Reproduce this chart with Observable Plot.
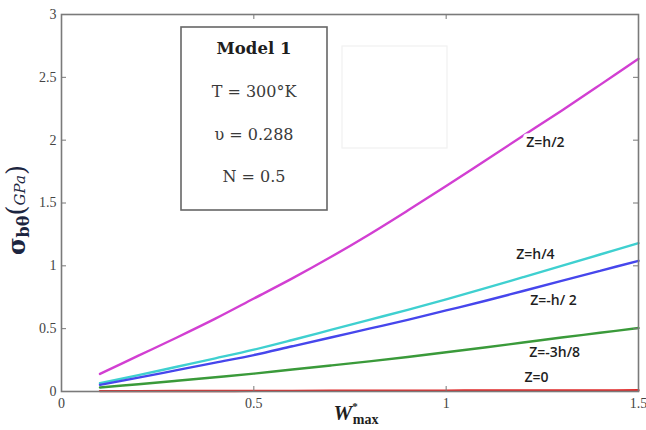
<!DOCTYPE html>
<html>
<head>
<meta charset="utf-8">
<script src="https://cdn.jsdelivr.net/npm/d3@7"></script>
<script src="https://cdn.jsdelivr.net/npm/@observablehq/plot@0.6"></script>
<style>
  html, body { margin: 0; padding: 0; background: #fff; }
  #chart svg { display: block; }
</style>
</head>
<body>
<div id="chart"></div>
<script>
// ---- data ----
const wMax = [0.1, 0.2, 0.3, 0.4, 0.5, 0.6, 0.7, 0.8, 0.9, 1.0, 1.1, 1.2, 1.3, 1.4, 1.5];
const zHalf      = [0.14, 0.285, 0.43, 0.58, 0.74, 0.9, 1.07, 1.25, 1.44, 1.635, 1.835, 2.035, 2.235, 2.44, 2.647];
const zQuarter   = [0.066, 0.13, 0.197, 0.264, 0.333, 0.41, 0.49, 0.57, 0.65, 0.733, 0.82, 0.91, 1.0, 1.09, 1.18];
const zMinusHalf = [0.053, 0.11, 0.17, 0.23, 0.29, 0.36, 0.43, 0.50, 0.57, 0.645, 0.72, 0.80, 0.88, 0.96, 1.04];
const zMinus3h8  = [0.032, 0.058, 0.085, 0.113, 0.142, 0.175, 0.207, 0.24, 0.275, 0.312, 0.35, 0.39, 0.43, 0.467, 0.505];
const zZero      = [0.003, 0.003, 0.004, 0.004, 0.005, 0.005, 0.006, 0.006, 0.007, 0.007, 0.008, 0.008, 0.009, 0.009, 0.01];

const seriesNames = ["Z=h/2", "Z=h/4", "Z=-h/ 2", "Z=-3h/8", "Z=0"];
const seriesValues = [zHalf, zQuarter, zMinusHalf, zMinus3h8, zZero];
const seriesColors = ["#d23fd2", "#3fd0d0", "#4646ec", "#3a9a3a", "#e02a2a"];

// label anchors (data coordinates) for the curve annotations
const labelX = [1.258, 1.232, 1.279, 1.282, 1.235];
const labelY = [1.98, 1.093, 0.726, 0.311, 0.112];

const xTicks = [0, 0.5, 1, 1.5];
const yTicks = [0, 0.5, 1, 1.5, 2, 2.5, 3];

const infoLines = ["Model 1", "T = 300°K", "υ = 0.288", "N = 0.5"];

// ---- build tables ----
const rows = [];
seriesNames.forEach((name, i) => {
  wMax.forEach((w, j) => rows.push({series: name, w, s: seriesValues[i][j]}));
});
const labels = seriesNames.map((name, i) => ({name, x: labelX[i], y: labelY[i]}));

const W = 646, H = 430;
const mL = 61, mR = 8, mT = 14, mB = 39;
const innerW = W - mL - mR, innerH = H - mT - mB;
const tickLen = 5;
const serif = "'Liberation Serif', 'Times New Roman', serif";
const sans = "'Open Sans', sans-serif";

const chart = Plot.plot({
  width: W,
  height: H,
  marginLeft: mL,
  marginRight: mR,
  marginTop: mT,
  marginBottom: mB,
  style: {fontSize: "14px", color: "#333", background: "#fff"},
  x: {domain: [0, 1.5], label: null, axis: null},
  y: {domain: [0, 3], label: null, axis: null},
  color: {domain: seriesNames, range: seriesColors},
  marks: [
    // curves
    Plot.line(rows, {x: "w", y: "s", z: "series", stroke: "series", strokeWidth: 2.4, curve: "catmull-rom"}),
    // curve labels with white halo (cuts the lines like in the reference)
    Plot.text(labels, {
      x: "x", y: "y", text: "name", className: "curve-label",
      fontWeight: 600, fontSize: 14,
      fill: "#1f1f1f", stroke: "white", strokeWidth: 7, letterSpacing: 0.6
    }),
    // inward ticks on all four sides
    Plot.tickX(xTicks, {x: d => d, stroke: "#777", insetTop: innerH - tickLen}),
    Plot.tickX(xTicks, {x: d => d, stroke: "#777", insetBottom: innerH - tickLen}),
    Plot.tickY(yTicks, {y: d => d, stroke: "#777", insetRight: innerW - tickLen}),
    Plot.tickY(yTicks, {y: d => d, stroke: "#777", insetLeft: innerW - tickLen}),
    // tick labels
    Plot.axisX({ticks: xTicks, tickSize: 0, tickPadding: 7, tickFormat: d => String(d),
      fontSize: 14, fill: "#444", label: null}),
    Plot.axisY({ticks: yTicks, tickSize: 0, tickPadding: 5, tickFormat: d => String(d),
      fontSize: 14, fill: "#444", label: null}),
    Plot.frame({stroke: "#7a7a7a", strokeWidth: 1.6})
  ]
});

document.getElementById("chart").appendChild(chart);

const svg = d3.select(chart);
// serif (MATLAB-like Times) for every Plot-drawn text, sans for the curve labels
svg.selectAll("text").style("font-family", serif);
svg.selectAll(".curve-label text, text.curve-label").style("font-family", sans);
svg.selectAll("g[aria-label='text'] text").style("font-family", sans);

// ---- annotations with rich text (sub/superscripts) ----
// faint ghost box seen in the reference
svg.append("rect")
  .attr("x", 342).attr("y", 46).attr("width", 105).attr("height", 102)
  .attr("fill", "none").attr("stroke", "#f1f1f1").attr("stroke-width", 1.2);

// info box
const box = svg.append("g");
box.append("rect")
  .attr("x", 181).attr("y", 27).attr("width", 146).attr("height", 183)
  .attr("fill", "white").attr("stroke", "#666").attr("stroke-width", 1.6);
const boxCx = 254;
const boxY = [48, 91, 134, 176];
infoLines.forEach((t, i) => {
  box.append("text")
    .attr("x", boxCx).attr("y", boxY[i])
    .attr("text-anchor", "middle").attr("dominant-baseline", "central")
    .style("font-family", "'DejaVu Serif', serif")
    .attr("font-size", i === 0 ? 16.5 : 16)
    .attr("font-weight", i === 0 ? "bold" : "normal")
    .attr("fill", i === 0 ? "#1e1e1e" : "#3a3a3a")
    .text(t);
});

// y axis title: σ_bθ (GPa)
const yt = svg.append("text")
  .attr("transform", "translate(25,210) rotate(-90)")
  .attr("text-anchor", "middle")
  .style("font-family", "'DejaVu Serif', serif")
  .attr("fill", "#1c2540");
yt.append("tspan").attr("font-size", 24).attr("font-weight", "bold").text("σ");
yt.append("tspan").attr("font-size", 16).attr("font-weight", "bold").attr("dy", 4).text("bθ");
yt.append("tspan").attr("font-size", 26).attr("dy", -4).text("(");
yt.append("tspan").attr("font-size", 15).attr("font-style", "italic").text("GPa");
yt.append("tspan").attr("font-size", 26).text(")");

// x axis title: W*max
const xt = svg.append("text")
  .attr("x", 356).attr("y", 420)
  .attr("text-anchor", "middle")
  .style("font-family", serif)
  .attr("font-weight", "bold")
  .attr("fill", "#1e1e1e");
xt.append("tspan").attr("font-size", 21).attr("font-style", "italic").text("W");
xt.append("tspan").attr("font-size", 11).attr("dy", -10).text("*");
xt.append("tspan").attr("font-size", 14).attr("dx", -5).attr("dy", 14).text("max");
</script>
</body>
</html>
